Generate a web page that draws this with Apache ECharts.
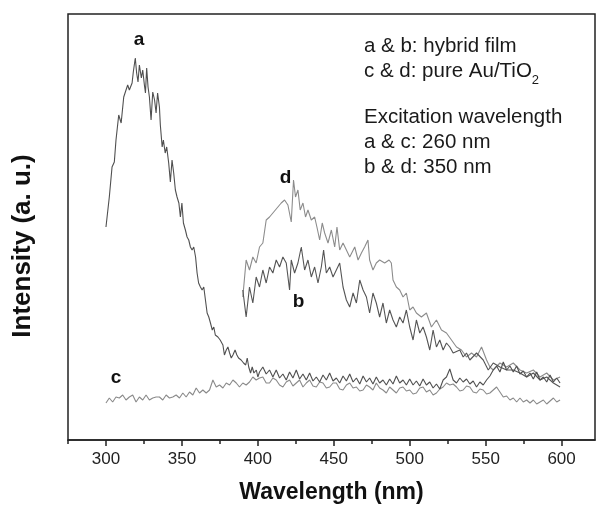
<!DOCTYPE html>
<html><head><meta charset="utf-8">
<script src="https://cdn.jsdelivr.net/npm/echarts@6/dist/echarts.min.js"></script>
<style>html,body{margin:0;padding:0;background:#fff}#c{width:596px;height:509px}</style>
</head><body><div id="c"></div>
<script>
// x tick labels
var xTickLabels = [300, 350, 400, 450, 500, 550, 600];
var xMinorTicks = [275, 325, 375, 425, 475, 525, 575, 625];

// curve a (hybrid film, 260 nm)
var aX = [300.0,302.2,304.0,305.5,306.6,308.4,310.0,311.7,313.2,314.3,315.4,317.2,318.0,319.3,320.2,321.1,322.0,323.3,324.2,325.3,326.0,326.8,327.7,328.6,329.7,330.8,332.0,333.0,334.0,335.2,335.8,337.0,337.8,339.0,340.0,341.3,342.4,343.5,344.6,345.7,346.8,348.0,349.0,350.0,351.0,352.3,353.4,354.5,355.6,356.7,357.8,359.0,360.0,361.0,362.2,363.3,364.4,365.5,366.6,367.7,368.8,370.0,371.0,372.0,373.7,375.2,377.0,378.0,379.2,380.3,381.4,382.5,383.6,385.0,386.2,387.3,389.0,390.6,392.0,393.0,394.0,395.2,396.3,397.4,399.0,400.0,401.1];
var aY = [213,243,273,278,300,325,317,343,350,355,350,357,368,382,367,358,375,362,370,355,347,372,353,343,320,348,340,327,347,333,315,293,300,287,293,277,258,280,267,250,243,237,223,237,217,210,203,200,193,190,193,183,167,157,153,150,153,140,127,123,117,110,113,105,103,100,95,85,90,93,87,82,85,90,85,82,80,77,75,82,73,67,73,67,70,63,68];
var tailX = [403.3,405.5,407.7,409.9,412.1,414.3,416.5,418.7,420.9,423.1,425.3,427.5,429.7,431.9,434.1,436.3,438.5,440.7,442.9,445.1,447.3,449.5,451.7,453.9,456.1,458.3,460.5,462.7,464.9,467.1,469.3,471.5,473.6,475.8,478.0,480.2,482.4,484.6,486.8,489.0,491.2,493.4,495.6,497.8,500.0,502.2,504.4,506.6,508.8,511.0,513.2,515.4,517.6,519.8,522.0,524.2,526.4,528.6,530.8,533.0,535.2,537.4,539.6,541.8,544.0,546.2,548.4,550.6,552.8,555.0,557.2,559.4,561.6,563.8,566.0,568.2,570.4,572.6,574.8,577.0,579.2,581.4,583.6,585.8,588.0,590.2,592.4,594.6,596.8,599.0];
var aTailY = [73,66,70,63,70,62,66,60,68,62,70,61,66,60,67,59,63,58,65,60,67,59,62,57,64,59,66,58,62,56,64,58,62,56,63,57,60,55,61,56,64,57,60,55,61,55,59,54,61,55,58,52,56,51,60,63,71,60,57,62,58,61,56,59,53,58,55,60,64,70,74,68,78,70,74,68,74,66,69,63,67,61,68,60,63,58,65,58,62,57];

// curve c (pure Au/TiO2, 260 nm)
var cX = [300.0,302.2,304.4,306.6,308.8,311.0,313.2,315.4,317.6,319.8,322.0,324.2,326.4,328.6,330.8,333.0,335.2,337.4,339.6,341.8,344.0,346.2,348.4,350.6,352.8,355.0,357.2,359.4,361.6,363.8,366.0,368.2,370.4,372.6,374.8,377.0,379.2,381.4,383.6,385.8,387.9,390.1,392.3,394.5,396.7,398.9,401.1];
var cY = [37,42,38,43,42,45,40,43,45,38,43,40,45,40,42,43,43,40,45,42,43,45,42,47,43,48,45,52,47,50,47,50,60,53,55,52,57,55,60,57,53,57,55,58,63,60,62];
var cTailY = [63,57,57,62,60,55,53,58,60,54,57,60,53,57,60,54,53,58,57,52,53,57,57,51,50,55,57,52,53,49,50,55,53,50,57,52,50,47,53,50,47,52,53,49,50,46,47,52,53,48,50,45,47,51,53,57,55,56,53,49,50,54,53,48,47,51,50,46,47,50,53,48,43,44,40,42,38,42,38,40,37,40,36,38,40,36,39,42,38,40];

// curve b (hybrid film, 350 nm)
var bX = [390.1,392.3,394.5,396.7,398.9,401.1,403.3,405.5,407.7,409.9,412.1,414.3,416.5,418.7,420.9,422.0,424.2,426.4,428.6,430.8,433.0,435.2,437.4,439.6,441.8,443.3,445.1,447.3,449.5,451.7,453.9,456.1,458.3,460.5,462.7,464.9,467.1,469.3,471.5,473.6,475.8,478.0,480.2,482.4,484.6,486.8,489.0,491.2,493.4,495.6,497.8,500.0,502.2,504.4,506.6,508.8,511.0,513.2,515.4,517.6,519.8,522.0,524.2,526.4,528.6,533.0,535.2,537.4,539.6,544.0,548.4,551.7,555.0,559.4,563.8,568.2,572.6,577.0,581.4,585.8,590.2,594.6,599.0];
var bY = [150,123,153,137,163,153,170,157,173,167,180,173,183,177,150,180,167,177,193,170,180,163,173,157,173,190,167,173,163,170,177,153,140,133,147,137,160,150,143,127,147,137,123,137,117,130,120,113,123,117,130,113,100,120,107,113,103,90,110,93,100,90,97,93,87,90,83,87,80,87,80,70,77,73,70,70,67,63,67,60,63,57,53];

// curve d (pure Au/TiO2, 350 nm)
var dX = [390.1,392.3,394.5,396.7,398.9,401.1,403.3,405.5,407.7,409.9,413.2,415.4,417.6,419.8,422.0,423.5,424.8,426.4,427.9,429.7,431.4,433.0,435.2,437.4,438.9,440.7,442.4,444.0,446.2,448.4,450.6,452.1,453.9,456.1,458.3,460.5,463.8,466.0,468.2,470.3,472.5,473.6,475.8,478.0,480.2,483.5,486.4,487.9,489.0,491.2,493.4,495.6,497.8,500.0,502.2,504.4,507.7,511.0,514.3,517.6,520.9,524.2,527.5,530.8,534.1,537.4,540.7,544.0,547.3,550.6,552.8,555.0,559.4,563.8,568.2,572.6,577.0,581.4,585.8,590.2,594.6,599.0];
var dY = [143,180,170,183,177,193,197,220,223,227,233,237,240,235,218,260,243,250,230,237,223,230,220,223,213,200,217,207,197,210,193,213,190,197,190,183,193,180,187,193,200,180,170,177,180,177,180,177,160,153,150,143,147,130,133,127,123,127,113,120,110,107,100,93,90,83,87,83,93,80,73,70,77,73,77,70,67,70,63,67,60,63];

// curve letter labels [wavelength, intensity]
var curveLabels = [['a', 321.7, 400], ['d', 418.2, 262], ['b', 426.8, 138], ['c', 306.6, 62]];

var legendLines = ['a & b: hybrid film', 'c & d: pure Au/TiO', 'Excitation wavelength', 'a & c: 260 nm', 'b & d: 350 nm'];
var yTitle = 'Intensity (a. u.)';

function zip(x, y) { var o = []; for (var i = 0; i < x.length; i++) o.push([x[i], y[i]]); return o; }

var FONT = '"Liberation Sans", Arial, Helvetica, sans-serif';
var chart = echarts.init(document.getElementById('c'), null, {renderer: 'canvas'});

function lineSeries(name, data, color, labelIdx) {
  var s = {
    name: name, type: 'line', data: data, showSymbol: false, symbol: 'none',
    lineStyle: {width: 1.1, color: color}, animation: false, silent: true, z: 3
  };
  if (labelIdx != null) {
    var L = curveLabels[labelIdx];
    s.markPoint = {
      symbol: 'circle', symbolSize: 0, animation: false, silent: true,
      data: [{coord: [L[1], L[2]], value: L[0]}],
      label: {show: true, position: 'inside', formatter: L[0], fontFamily: FONT, fontWeight: 'bold', fontSize: 19, color: '#111'}
    };
  }
  return s;
}

var meas = document.createElement('canvas').getContext('2d');
meas.font = '20.5px ' + FONT;
var subX = 364 + meas.measureText(legendLines[1]).width;

var legendTops = [36, 61, 107, 132, 157];
var graphics = legendLines.map(function (t, i) {
  return {type: 'text', left: 364, top: legendTops[i], style: {text: t, font: '20.5px ' + FONT, fill: '#1a1a1a'}, z: 10};
});
graphics.push({type: 'text', left: subX, top: legendTops[1] + 13, style: {text: '2', font: '13px ' + FONT, fill: '#1a1a1a'}, z: 10});
graphics.push({
  type: 'text', x: 23, y: 246, rotation: Math.PI / 2, z: 10,
  style: {text: yTitle, font: 'bold 26px ' + FONT, fill: '#111', align: 'center', verticalAlign: 'middle'}
});

chart.setOption({
  animation: false,
  backgroundColor: '#fff',
  grid: {left: 68, right: 1, top: 14, bottom: 69, show: true, borderColor: '#222', borderWidth: 1.5, containLabel: false},
  xAxis: [{
    type: 'value', min: 275, max: 622, position: 'bottom',
    axisLine: {show: true, onZero: false, lineStyle: {color: '#222', width: 1.5}},
    axisTick: {show: true, inside: false, length: 6, lineStyle: {color: '#222', width: 1.5}, customValues: xTickLabels},
    axisLabel: {show: true, margin: 11, fontSize: 17, fontFamily: FONT, color: '#222', customValues: xTickLabels},
    splitLine: {show: false},
    name: 'Wavelength (nm)', nameLocation: 'middle', nameGap: 41,
    nameTextStyle: {fontSize: 23, fontWeight: 'bold', fontFamily: FONT, color: '#111'}
  }, {
    type: 'value', min: 275, max: 622, position: 'bottom',
    axisLine: {show: false, onZero: false},
    axisTick: {show: true, inside: false, length: 4, lineStyle: {color: '#222', width: 1.5}, customValues: xMinorTicks},
    axisLabel: {show: false}, splitLine: {show: false}
  }],
  yAxis: {
    type: 'value', min: 0, max: 426,
    axisLine: {show: false}, axisTick: {show: false}, axisLabel: {show: false}, splitLine: {show: false}
  },
  graphic: graphics,
  series: [
    lineSeries('c', zip(cX.concat(tailX), cY.concat(cTailY)), '#8a8a8a', 3),
    lineSeries('d', zip(dX, dY), '#8c8c8c', 1),
    lineSeries('b', zip(bX, bY), '#555555', 2),
    lineSeries('a', zip(aX.concat(tailX), aY.concat(aTailY)), '#505050', 0)
  ]
});
</script></body></html>
